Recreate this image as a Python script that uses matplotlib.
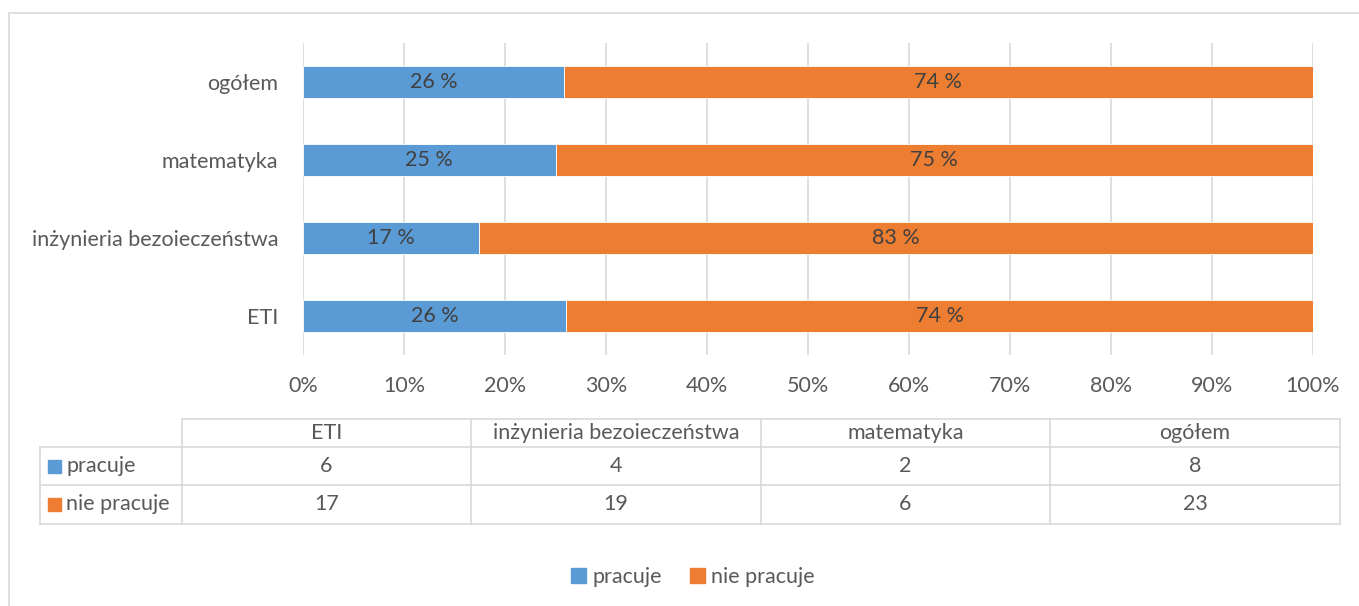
import matplotlib
matplotlib.use("Agg")
import matplotlib.pyplot as plt
from matplotlib.lines import Line2D
from matplotlib.patches import Rectangle

plt.rcParams['font.family'] = ['Lato', 'DejaVu Sans']

categories = ["ETI", "inżynieria bezoieczeństwa", "matematyka", "ogółem"]
series_names = ["pracuje", "nie pracuje"]
pracuje = [6, 4, 2, 8]
nie_pracuje = [17, 19, 6, 23]
pct_pracuje = [26, 17, 25, 26]
pct_nie = [74, 83, 75, 74]
xticks = [0, 10, 20, 30, 40, 50, 60, 70, 80, 90, 100]
xticklabels = [f"{t}%" for t in xticks]

colors = ["#5B9BD5", "#ED7D31"]
txt = "#595959"
grid = "#D9D9D9"
FS = 15.5

W, H = 1359, 606
fig = plt.figure(figsize=(W / 100, H / 100), dpi=100)

def fx(px):
    return px / W

def fy(py):
    return 1 - py / H

# outer border
fig.add_artist(Rectangle((fx(9), fy(640)), fx(1400), fy(13) - fy(640), transform=fig.transFigure,
                         fill=False, edgecolor=grid, linewidth=1.2))

ax = fig.add_axes([fx(303), fy(355), fx(1313) - fx(303), fy(43) - fy(355)])
totals = [a + b for a, b in zip(pracuje, nie_pracuje)]
share_p = [100 * a / t for a, t in zip(pracuje, totals)]
share_n = [100 * b / t for b, t in zip(nie_pracuje, totals)]
y = list(range(len(categories)))
ax.barh(y, share_p, height=0.41, color=colors[0], edgecolor="white", linewidth=0.6, zorder=3)
ax.barh(y, share_n, left=share_p, height=0.41, color=colors[1], edgecolor="white", linewidth=0.6, zorder=3)
for i in y:
    ax.text(share_p[i] / 2, i, f"{pct_pracuje[i]} %", ha="center", va="center",
            fontsize=FS, color="#404040", zorder=4)
    ax.text(share_p[i] + share_n[i] / 2, i, f"{pct_nie[i]} %", ha="center", va="center",
            fontsize=FS, color="#404040", zorder=4)
ax.set_xlim(0, 100)
ax.set_ylim(-0.5, 3.5)
ax.set_xticks(xticks)
ax.set_xticklabels(xticklabels, fontsize=FS, color=txt)
ax.set_yticks(y)
ax.set_yticklabels(categories, fontsize=FS, color=txt)
ax.tick_params(length=0, pad=15, axis="x")
ax.tick_params(length=0, pad=18, axis="y")
ax.xaxis.grid(True, color=grid, linewidth=1.2, zorder=0)
for s in ax.spines.values():
    s.set_visible(False)

# data table
cols = [182, 471, 761, 1050, 1340]
rows = [419, 447, 485, 524]
lw = 1.2

def hline(x0, x1, yy):
    fig.add_artist(Line2D([fx(x0), fx(x1)], [fy(yy), fy(yy)], transform=fig.transFigure,
                          color=grid, linewidth=lw))

def vline(xx, y0, y1):
    fig.add_artist(Line2D([fx(xx), fx(xx)], [fy(y0), fy(y1)], transform=fig.transFigure,
                          color=grid, linewidth=lw))

hline(cols[0], cols[-1], rows[0])
for r in rows[1:]:
    hline(40, cols[-1], r)
vline(40, rows[1], rows[3])
for c in cols:
    vline(c, rows[0], rows[3])

for j, cat in enumerate(categories):
    cx = (cols[j] + cols[j + 1]) / 2
    fig.text(fx(cx), fy((rows[0] + rows[1]) / 2), cat, ha="center", va="center", fontsize=FS, color=txt)
    fig.text(fx(cx), fy((rows[1] + rows[2]) / 2), str(pracuje[j]), ha="center", va="center", fontsize=FS, color=txt)
    fig.text(fx(cx), fy((rows[2] + rows[3]) / 2), str(nie_pracuje[j]), ha="center", va="center", fontsize=FS, color=txt)

for k, name in enumerate(series_names):
    yc = (rows[1 + k] + rows[2 + k]) / 2
    fig.add_artist(Rectangle((fx(48), fy(yc + 6.5)), fx(13), fy(yc - 6.5) - fy(yc + 6.5),
                             transform=fig.transFigure, color=colors[k]))
    fig.text(fx(66), fy(yc), name, ha="left", va="center", fontsize=FS, color=txt)

# legend
handles = [Rectangle((0, 0), 1, 1, color=c) for c in colors]
fig.legend(handles, series_names, loc="center", bbox_to_anchor=(fx(693), fy(577)), ncol=2,
           frameon=False, fontsize=FS, labelcolor=txt, handlelength=0.7, handleheight=0.7,
           handletextpad=0.3, columnspacing=1.3)

fig.savefig("out.png", dpi=100)
